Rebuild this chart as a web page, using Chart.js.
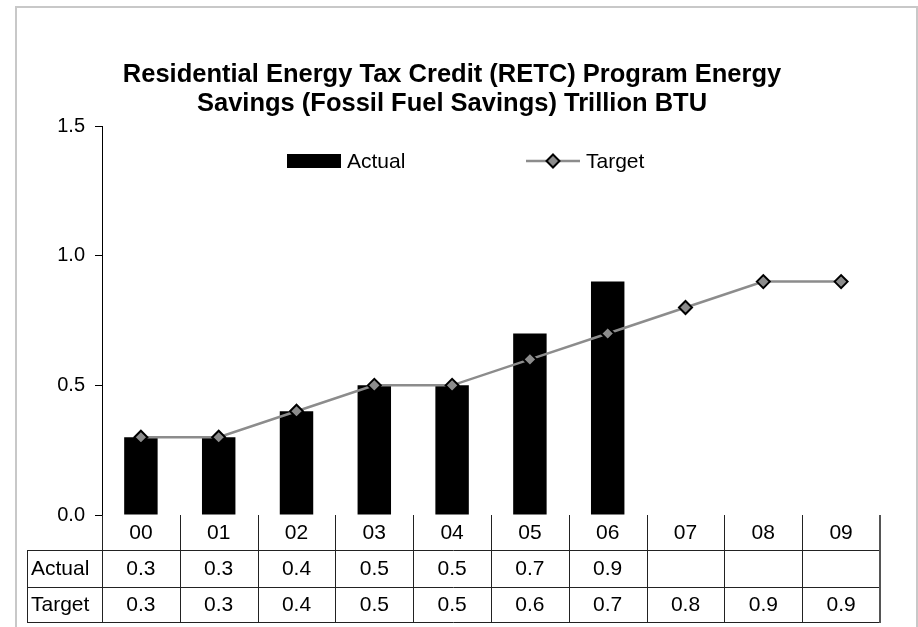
<!DOCTYPE html>
<html>
<head>
<meta charset="utf-8">
<script src="https://cdn.jsdelivr.net/npm/chart.js@4"></script>
<style>
  html, body { margin: 0; padding: 0; background: #fff; }
  #wrap { position: relative; width: 918px; height: 627px; }
</style>
</head>
<body>
<div id="wrap"><canvas id="c" width="918" height="627"></canvas></div>
<script>
const years = ["00", "01", "02", "03", "04", "05", "06", "07", "08", "09"];
const actual = [0.3, 0.3, 0.4, 0.5, 0.5, 0.7, 0.9, null, null, null];
const target = [0.3, 0.3, 0.4, 0.5, 0.5, 0.6, 0.7, 0.8, 0.9, 0.9];
const yMin = 0;
const yMax = 1.5;
const yStep = 0.5;
const titleLines = [
  "Residential Energy Tax Credit (RETC) Program Energy",
  "Savings (Fossil Fuel Savings) Trillion BTU",
];

const FONT = "'Liberation Sans', Arial, sans-serif";
const LINE_GRAY = "#8c8c8c";

function fmt(v) {
  return v == null ? "" : Number(v).toFixed(1);
}

// frame, title, legend and the data table under the plot
const decor = {
  id: "decor",
  beforeDraw(chart) {
    const ctx = chart.ctx;
    ctx.save();
    ctx.fillStyle = "#fff";
    ctx.fillRect(0, 0, chart.width, chart.height);
    ctx.strokeStyle = "#c8c8c8";
    ctx.lineWidth = 2;
    ctx.strokeRect(16, 7, 901, 640);
    ctx.restore();
  },
  afterDraw(chart) {
    const ctx = chart.ctx;
    const x = chart.scales.x;
    const area = chart.chartArea;
    ctx.save();

    // title
    ctx.fillStyle = "#000";
    ctx.font = `bold 25.5px ${FONT}`;
    ctx.textAlign = "center";
    ctx.textBaseline = "middle";
    ctx.fillText(titleLines[0], 452, 75);
    ctx.fillText(titleLines[1], 452, 104);

    // legend
    const ly = 161;
    ctx.fillStyle = chart.data.datasets[0].backgroundColor;
    ctx.fillRect(287, 154, 54, 14);
    ctx.fillStyle = "#000";
    ctx.font = `21px ${FONT}`;
    ctx.textAlign = "left";
    ctx.fillText(chart.data.datasets[0].label, 347, ly + 1);
    ctx.strokeStyle = LINE_GRAY;
    ctx.lineWidth = 2.5;
    ctx.beginPath();
    ctx.moveTo(526, ly);
    ctx.lineTo(580, ly);
    ctx.stroke();
    ctx.beginPath();
    ctx.moveTo(553, ly - 6.5);
    ctx.lineTo(559.5, ly);
    ctx.lineTo(553, ly + 6.5);
    ctx.lineTo(546.5, ly);
    ctx.closePath();
    ctx.fillStyle = LINE_GRAY;
    ctx.fill();
    ctx.strokeStyle = "#000";
    ctx.lineWidth = 2;
    ctx.stroke();
    ctx.fillStyle = "#000";
    ctx.fillText(chart.data.datasets[1].label, 586, ly + 1);

    // data table
    const colW = x.getPixelForValue(1) - x.getPixelForValue(0);
    const right = area.right;
    const rowTop = area.bottom;
    const rows = [rowTop, rowTop + 35, rowTop + 72, rowTop + 107];
    const labelLeft = 27;

    ctx.strokeStyle = "#222";
    ctx.lineWidth = 1;
    ctx.beginPath();
    for (let r = 1; r < rows.length; r++) {
      ctx.moveTo(labelLeft, rows[r] + 0.5);
      ctx.lineTo(right, rows[r] + 0.5);
    }
    ctx.moveTo(labelLeft + 0.5, rows[1]);
    ctx.lineTo(labelLeft + 0.5, rows[3]);
    for (let i = 0; i < years.length; i++) {
      const e = Math.round(x.getPixelForValue(i) - colW / 2) + 0.5;
      ctx.moveTo(e, rows[0]);
      ctx.lineTo(e, rows[3]);
    }
    ctx.stroke();
    ctx.strokeStyle = "#555";
    ctx.lineWidth = 2;
    ctx.beginPath();
    ctx.moveTo(right, rows[0]);
    ctx.lineTo(right, rows[3] + 1);
    ctx.stroke();

    ctx.fillStyle = "#000";
    ctx.font = `21px ${FONT}`;
    ctx.textBaseline = "middle";
    ctx.textAlign = "left";
    ctx.fillText(chart.data.datasets[0].label, labelLeft + 4, (rows[1] + rows[2]) / 2 + 1);
    ctx.fillText(chart.data.datasets[1].label, labelLeft + 4, (rows[2] + rows[3]) / 2 + 1);
    ctx.textAlign = "center";
    years.forEach((yr, i) => {
      const cx = x.getPixelForValue(i);
      ctx.fillText(yr, cx, (rows[0] + rows[1]) / 2 + 1);
      ctx.fillText(fmt(actual[i]), cx, (rows[1] + rows[2]) / 2 + 1);
      ctx.fillText(fmt(target[i]), cx, (rows[2] + rows[3]) / 2 + 1);
    });
    ctx.restore();
  },
};

new Chart(document.getElementById("c"), {
  data: {
    labels: years,
    datasets: [
      {
        type: "bar",
        label: "Actual",
        data: actual,
        backgroundColor: "#000",
        barPercentage: 0.43,
        categoryPercentage: 1,
        order: 2,
      },
      {
        type: "line",
        label: "Target",
        data: target,
        borderColor: LINE_GRAY,
        borderWidth: 2.5,
        pointStyle: "rectRot",
        pointRadius: 6.5,
        pointBackgroundColor: LINE_GRAY,
        pointBorderColor: "#000",
        pointBorderWidth: 2,
        tension: 0,
        order: 1,
      },
    ],
  },
  options: {
    responsive: false,
    animation: false,
    devicePixelRatio: 1,
    layout: { padding: { top: 126, right: 38, bottom: 112, left: 0 } },
    plugins: { legend: { display: false }, title: { display: false }, tooltip: { enabled: false } },
    scales: {
      x: { type: "category", display: false, offset: true },
      y: {
        min: yMin,
        max: yMax,
        afterFit: (s) => { s.width = 102; },
        ticks: {
          stepSize: yStep,
          color: "#000",
          padding: 10,
          font: { family: FONT, size: 20 },
          callback: (v) => Number(v).toFixed(1),
        },
        grid: { drawOnChartArea: false, drawTicks: true, tickLength: 7, color: "#000" },
        border: { display: true, color: "#000", width: 1 },
      },
    },
  },
  plugins: [decor],
});
</script>
</body>
</html>
